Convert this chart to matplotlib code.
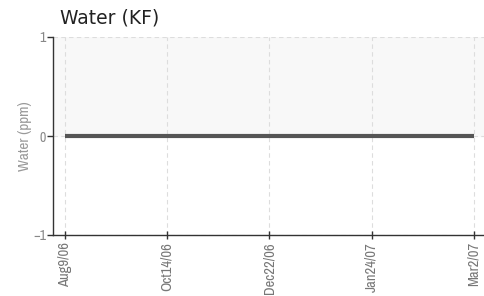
import matplotlib
matplotlib.use('Agg')
import matplotlib.pyplot as plt
from matplotlib import font_manager

# data
tick_labels = ['Aug9/06', 'Oct14/06', 'Dec22/06', 'Jan24/07', 'Mar2/07']
tick_pos = [0, 1, 2, 3, 4]
x_vals = [0, 1, 2, 3, 4]
water = [0, 0, 0, 0, 0]

narrow = 'DejaVu Sans'
for f in font_manager.fontManager.ttflist:
    if 'Narrow' in f.name or 'Condensed' in f.name:
        narrow = f.name
        break

fig = plt.figure(figsize=(4.84, 2.96), dpi=100)
ax = fig.add_axes([53 / 484, 61 / 296, 431 / 484, 198 / 296])

ax.axhspan(0, 1, color='#f8f8f8', zorder=0)
ax.plot(x_vals, water, color='#555555', linewidth=3, solid_capstyle='butt', zorder=3)

ax.set_xlim(-0.117, 4.098)
ax.set_ylim(-1, 1)
ax.set_yticks([-1, 0, 1])
ax.set_xticks(tick_pos)
ax.set_xticklabels(tick_labels, rotation=90, fontsize=10.5, color='#777777', family=narrow)
for t in ax.get_yticklabels():
    t.set_fontsize(10)
    t.set_color('#888888')
    t.set_family(narrow)

ax.grid(True, color='#dddddd', linestyle=(0, (4, 3)), linewidth=0.8, zorder=1)
for s in ['top', 'right']:
    ax.spines[s].set_visible(False)
for s in ['left', 'bottom']:
    ax.spines[s].set_color('#333333')
    ax.spines[s].set_linewidth(1)
ax.tick_params(axis='y', length=4, width=1, color='#333333', pad=1)
ax.tick_params(axis='x', length=6, width=1, color='#333333', direction='inout', pad=2)

ax.set_ylabel('Water (ppm)', fontsize=11, color='#999999', family=narrow, labelpad=1)
fig.text(60 / 484, 1 - 18 / 296, 'Water (KF)', fontsize=13.5, color='#222222', va='center')

fig.savefig('out.png', dpi=100)
